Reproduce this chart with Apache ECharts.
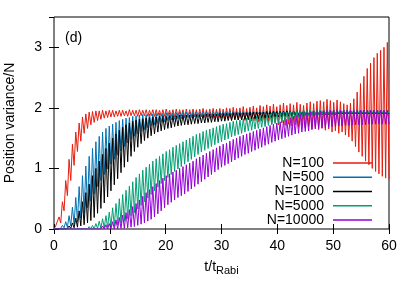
<!DOCTYPE html>
<html><head><meta charset="utf-8">
<script src="https://cdn.jsdelivr.net/npm/echarts@6/dist/echarts.min.js"></script>
<style>html,body{margin:0;padding:0;background:#fff}#c{width:415px;height:291px}</style>
</head><body><div id="c"></div>
<script>
// ---- data ----
const seriesNames = ['N=100', 'N=500', 'N=1000', 'N=5000', 'N=10000'];
const xTicks = [0, 10, 20, 30, 40, 50, 60];
const yTicks = [0, 1, 2, 3];
const oscPeriod = 0.6; // t/t_Rabi between successive troughs

// troughs at t = 0, 0.6, ..., 60 ; peaks at t = 0.3, 0.9, ..., 59.7
const n100Peaks = [
 0.05,0.2,0.45,0.8,1.15,1.4,1.6,1.75,1.85,1.9,
 1.93,1.94,1.95,1.95,1.96,1.95,1.96,1.96,1.95,1.96,
 1.96,1.95,1.97,1.96,1.96,1.97,1.96,1.97,1.96,1.97,
 1.97,1.96,1.97,1.98,1.96,1.97,1.98,1.97,1.97,1.98,
 1.97,1.98,1.97,1.98,1.99,1.97,1.98,1.99,1.98,1.99,
 1.98,2.0,1.99,2.01,1.99,2.0,2.02,1.99,2.01,2.03,
 2.0,2.04,2.02,2.05,2.03,2.06,2.02,2.05,2.08,2.04,
 2.07,2.05,2.09,2.06,2.04,2.08,2.1,2.07,2.11,2.12,
 2.1,2.14,2.12,2.09,2.13,2.1,2.07,2.05,2.08,2.15,
 2.26,2.4,2.52,2.65,2.74,2.83,2.9,2.95,3.0,3.08];
const n100Troughs = [
 0,0.02,0.1,0.3,0.55,0.8,1.05,1.28,1.45,1.58,
 1.66,1.72,1.76,1.79,1.81,1.83,1.84,1.85,1.85,1.86,
 1.86,1.87,1.86,1.87,1.87,1.86,1.87,1.87,1.86,1.87,
 1.86,1.87,1.86,1.86,1.87,1.86,1.85,1.86,1.86,1.85,
 1.85,1.86,1.85,1.84,1.85,1.84,1.85,1.84,1.83,1.84,
 1.83,1.82,1.83,1.81,1.82,1.8,1.81,1.79,1.8,1.78,
 1.79,1.77,1.78,1.75,1.77,1.74,1.76,1.72,1.75,1.71,
 1.73,1.7,1.72,1.68,1.71,1.67,1.69,1.65,1.68,1.64,
 1.66,1.63,1.65,1.6,1.62,1.58,1.6,1.55,1.52,1.45,
 1.36,1.27,1.2,1.12,1.06,1.0,0.95,0.91,0.87,0.84,
 0.82];
const n500Peaks = [
 0.01,0.02,0.06,0.12,0.22,0.36,0.52,0.7,0.88,1.04,
 1.2,1.33,1.44,1.53,1.6,1.66,1.7,1.73,1.76,1.79,
 1.81,1.83,1.84,1.86,1.87,1.88,1.89,1.89,1.9,1.9,
 1.91,1.91,1.91,1.92,1.92,1.92,1.92,1.93,1.93,1.93,
 1.93,1.93,1.94,1.93,1.94,1.94,1.93,1.94,1.94,1.94,
 1.94,1.94,1.95,1.94,1.94,1.95,1.94,1.94,1.95,1.94,
 1.94,1.95,1.94,1.95,1.94,1.95,1.95,1.94,1.95,1.95,
 1.95,1.94,1.95,1.95,1.95,1.94,1.95,1.95,1.95,1.95,
 1.95,1.95,1.95,1.95,1.95,1.95,1.95,1.95,1.95,1.95,
 1.95,1.95,1.95,1.95,1.95,1.95,1.95,1.95,1.95,1.95];
const n500Troughs = [
 0,0,0.01,0.02,0.03,0.05,0.08,0.12,0.18,0.26,
 0.35,0.46,0.58,0.7,0.8,0.9,0.99,1.07,1.15,1.22,
 1.29,1.36,1.42,1.48,1.53,1.57,1.61,1.64,1.67,1.7,
 1.72,1.74,1.76,1.77,1.79,1.8,1.81,1.82,1.82,1.83,
 1.84,1.84,1.85,1.85,1.86,1.86,1.86,1.87,1.87,1.87,
 1.88,1.88,1.88,1.88,1.89,1.89,1.89,1.89,1.89,1.89,
 1.9,1.9,1.9,1.9,1.9,1.9,1.9,1.9,1.9,1.9,
 1.9,1.9,1.9,1.9,1.9,1.9,1.9,1.9,1.9,1.9,
 1.9,1.9,1.9,1.9,1.9,1.9,1.9,1.9,1.9,1.9,
 1.9,1.9,1.9,1.9,1.9,1.9,1.9,1.9,1.9,1.9,
 1.9];
const n1000Peaks = [
 0,0.01,0.02,0.03,0.05,0.1,0.18,0.3,0.45,0.6,
 0.74,0.88,1.0,1.12,1.23,1.33,1.42,1.5,1.57,1.63,
 1.68,1.72,1.75,1.78,1.8,1.81,1.82,1.83,1.84,1.85,
 1.85,1.86,1.86,1.86,1.87,1.87,1.87,1.88,1.88,1.88,
 1.88,1.89,1.89,1.89,1.89,1.9,1.9,1.9,1.9,1.91,
 1.91,1.91,1.91,1.92,1.92,1.92,1.92,1.92,1.93,1.93,
 1.93,1.93,1.93,1.94,1.94,1.94,1.94,1.94,1.94,1.95,
 1.95,1.95,1.95,1.95,1.95,1.95,1.95,1.95,1.95,1.95,
 1.95,1.95,1.95,1.95,1.95,1.95,1.95,1.95,1.95,1.95,
 1.95,1.95,1.95,1.95,1.95,1.95,1.95,1.95,1.95,1.95];
const n1000Troughs = [
 0,0,0,0,0.01,0.01,0.02,0.03,0.05,0.07,
 0.1,0.14,0.19,0.26,0.34,0.43,0.53,0.63,0.73,0.83,
 0.93,1.02,1.11,1.2,1.28,1.35,1.41,1.46,1.5,1.54,
 1.57,1.6,1.62,1.64,1.66,1.67,1.69,1.7,1.71,1.72,
 1.72,1.73,1.74,1.74,1.75,1.75,1.76,1.76,1.77,1.77,
 1.78,1.78,1.79,1.79,1.8,1.8,1.8,1.81,1.81,1.82,
 1.82,1.82,1.83,1.83,1.84,1.84,1.85,1.85,1.85,1.86,
 1.86,1.86,1.87,1.87,1.87,1.88,1.88,1.88,1.88,1.89,
 1.89,1.89,1.89,1.89,1.89,1.9,1.9,1.9,1.9,1.9,
 1.9,1.9,1.9,1.9,1.9,1.9,1.9,1.9,1.9,1.9,
 1.9];
const n5000Peaks = [
 0,0,0,0,0,0,0,0.01,0.01,0.02,
 0.04,0.06,0.09,0.13,0.17,0.22,0.28,0.35,0.42,0.5,
 0.57,0.64,0.71,0.78,0.85,0.91,0.97,1.02,1.07,1.12,
 1.16,1.2,1.24,1.28,1.31,1.35,1.38,1.41,1.44,1.47,
 1.5,1.53,1.56,1.58,1.61,1.63,1.65,1.67,1.69,1.71,
 1.73,1.74,1.76,1.78,1.79,1.8,1.82,1.83,1.84,1.85,
 1.86,1.87,1.88,1.89,1.9,1.91,1.91,1.92,1.93,1.93,
 1.94,1.94,1.95,1.95,1.95,1.96,1.96,1.96,1.96,1.96,
 1.96,1.96,1.96,1.96,1.96,1.96,1.96,1.96,1.96,1.96,
 1.96,1.96,1.96,1.96,1.96,1.96,1.96,1.96,1.96,1.96];
const n5000Troughs = [
 0,0,0,0,0,0,0,0,0,0,
 0,0,0,0.01,0.01,0.02,0.03,0.04,0.05,0.07,
 0.1,0.13,0.17,0.22,0.27,0.33,0.39,0.45,0.51,0.57,
 0.63,0.69,0.75,0.8,0.85,0.9,0.95,0.99,1.03,1.07,
 1.11,1.15,1.19,1.23,1.27,1.3,1.33,1.36,1.39,1.42,
 1.44,1.47,1.49,1.52,1.54,1.56,1.58,1.6,1.62,1.63,
 1.65,1.66,1.68,1.69,1.71,1.72,1.74,1.75,1.77,1.78,
 1.8,1.81,1.83,1.84,1.85,1.86,1.87,1.88,1.88,1.89,
 1.89,1.9,1.9,1.9,1.9,1.91,1.91,1.91,1.91,1.91,
 1.91,1.91,1.91,1.91,1.91,1.91,1.91,1.91,1.91,1.91,
 1.91];
const n10000Peaks = [
 0,0,0,0,0,0,0,0,0,0,
 0,0.01,0.02,0.03,0.05,0.07,0.09,0.12,0.15,0.19,
 0.23,0.27,0.32,0.37,0.42,0.48,0.54,0.6,0.65,0.7,
 0.75,0.8,0.84,0.88,0.91,0.94,0.97,1.0,1.03,1.06,
 1.09,1.12,1.16,1.19,1.22,1.25,1.28,1.31,1.34,1.37,
 1.4,1.42,1.45,1.48,1.5,1.53,1.55,1.57,1.59,1.61,
 1.63,1.65,1.67,1.69,1.71,1.73,1.75,1.77,1.79,1.81,
 1.84,1.86,1.88,1.9,1.91,1.92,1.93,1.94,1.95,1.95,
 1.95,1.96,1.96,1.96,1.96,1.96,1.96,1.96,1.96,1.96,
 1.96,1.96,1.96,1.96,1.96,1.96,1.96,1.96,1.96,1.96];
const n10000Troughs = [
 0,0,0,0,0,0,0,0,0,0,
 0,0,0,0,0,0,0,0,0,0,
 0.01,0.01,0.02,0.03,0.04,0.06,0.08,0.1,0.13,0.16,
 0.2,0.25,0.3,0.35,0.4,0.44,0.48,0.52,0.55,0.58,
 0.62,0.66,0.7,0.74,0.78,0.82,0.86,0.9,0.94,0.98,
 1.02,1.05,1.08,1.11,1.14,1.17,1.2,1.23,1.25,1.28,
 1.3,1.33,1.35,1.38,1.4,1.43,1.45,1.47,1.49,1.51,
 1.53,1.55,1.57,1.58,1.6,1.61,1.62,1.64,1.65,1.66,
 1.67,1.67,1.68,1.69,1.69,1.7,1.7,1.71,1.71,1.71,
 1.72,1.72,1.72,1.72,1.73,1.73,1.73,1.73,1.73,1.73,
 1.73];
const seriesColors = ['#e51e10', '#0072b2', '#000000', '#009e73', '#9400d3'];

// ---- build ----
function build(troughs, peaks) {
  const d = [];
  for (let k = 0; k < troughs.length; k++) {
    d.push([+(k * oscPeriod).toFixed(3), troughs[k]]);
    if (k < peaks.length) d.push([+(k * oscPeriod + oscPeriod / 2).toFixed(3), peaks[k]]);
  }
  return d;
}
const allData = [
  build(n100Troughs, n100Peaks),
  build(n500Troughs, n500Peaks),
  build(n1000Troughs, n1000Peaks),
  build(n5000Troughs, n5000Peaks),
  build(n10000Troughs, n10000Peaks)
];

const FONT = 'Liberation Sans';
const chart = echarts.init(document.getElementById('c'), null, {renderer: 'canvas'});
const tickStyle = {inside: true, length: 5, lineStyle: {color: '#000', width: 1}};
chart.setOption({
  animation: false,
  backgroundColor: '#fff',
  grid: {left: 54, right: 26, top: 17, bottom: 62, containLabel: false, outerBoundsMode: 'none',
    show: true, borderColor: '#000', borderWidth: 1, backgroundColor: 'transparent'},
  xAxis: [{
    type: 'value', min: xTicks[0], max: xTicks[xTicks.length - 1], interval: xTicks[1] - xTicks[0],
    axisLine: {show: false}, axisTick: tickStyle, splitLine: {show: false},
    axisLabel: {color: '#000', fontSize: 14, fontFamily: FONT, margin: 10},
    name: '{a|t/t}{b|Rabi}', nameLocation: 'middle', nameGap: 28,
    nameTextStyle: {rich: {
      a: {fontSize: 14, fontFamily: FONT, color: '#000', lineHeight: 18},
      b: {fontSize: 11, fontFamily: FONT, color: '#000', lineHeight: 10, padding: [8, 0, 0, 0]}
    }}
  }, {
    type: 'value', position: 'top', min: xTicks[0], max: xTicks[xTicks.length - 1], interval: xTicks[1] - xTicks[0],
    axisLine: {show: false}, axisTick: tickStyle, splitLine: {show: false}, axisLabel: {show: false}
  }],
  yAxis: [{
    type: 'value', min: yTicks[0], max: 3.5, interval: yTicks[1] - yTicks[0],
    axisLine: {show: false}, axisTick: tickStyle, splitLine: {show: false},
    axisLabel: {color: '#000', fontSize: 14, fontFamily: FONT, margin: 12, showMaxLabel: false,
      formatter: v => (yTicks.indexOf(v) >= 0 ? String(v) : '')},
    name: 'Position variance/N', nameLocation: 'middle', nameGap: 37,
    nameTextStyle: {fontSize: 14, fontFamily: FONT, color: '#000'}
  }, {
    type: 'value', position: 'right', min: yTicks[0], max: 3.5, interval: yTicks[1] - yTicks[0],
    axisLine: {show: false}, axisTick: tickStyle, splitLine: {show: false}, axisLabel: {show: false}
  }],
  legend: {
    orient: 'vertical', align: 'right', right: 38, top: 151, itemGap: 0,
    itemWidth: 39, itemHeight: 1.5, icon: 'rect',
    textStyle: {fontSize: 14, fontFamily: FONT, color: '#000', lineHeight: 14.2, padding: [0, 4, 0, 0]},
    data: seriesNames
  },
  graphic: [{type: 'text', left: 65, top: 31, style: {text: '(d)', fontSize: 14, fontFamily: FONT, fill: '#000'}}],
  series: seriesNames.map((n, i) => ({
    name: n, type: 'line', data: allData[i], xAxisIndex: 0, yAxisIndex: 0,
    symbol: 'none', sampling: null, smooth: false,
    lineStyle: {color: seriesColors[i], width: 1}, itemStyle: {color: seriesColors[i]},
    z: 2 + i
  }))
});
</script></body></html>
